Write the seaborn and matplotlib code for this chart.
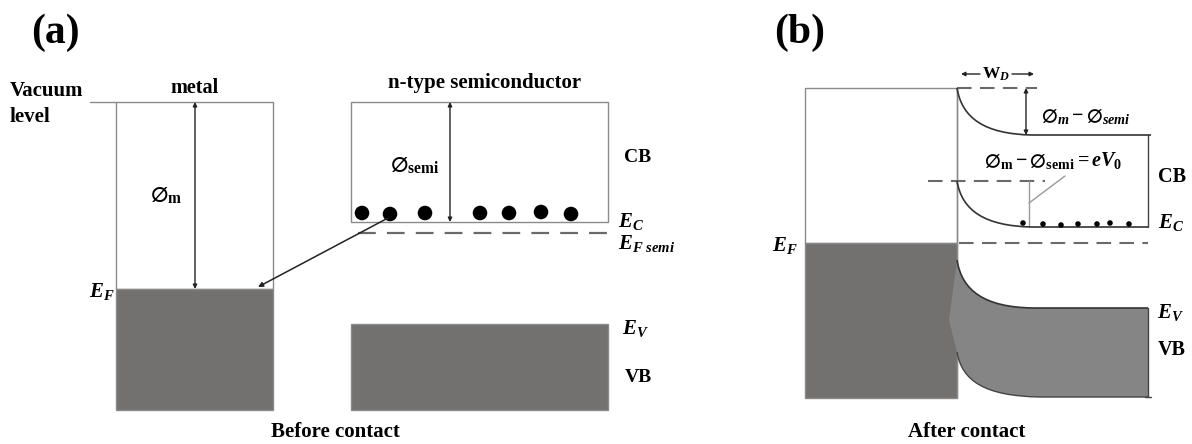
import numpy as np
import pandas as pd
import matplotlib
matplotlib.use("Agg")
import matplotlib.pyplot as plt
from matplotlib.path import Path
from matplotlib.patches import PathPatch, Rectangle, FancyArrowPatch
import seaborn as sns

# ---------------- band levels (canvas units, y grows downward) ----------------
# (a) before contact
metal_a_x = [116, 273]
vacuum_a_y = 102
ef_metal_a_y = 289
bottom_a_y = 410
semi_a_x = [351, 608]
ec_a_y = 222
ef_semi_a_y = 233
ev_a_y = 324
electrons_a_x = [362, 390, 425, 480, 509, 541, 571]
electrons_a_y = [213, 214, 213, 213, 213, 212, 214]

# (b) after contact
metal_b_x = [805, 957]
vacuum_b_y = 88
ef_b_y = 243
bottom_b_y = 398
semi_b_right = 1148
cb_top_flat_y = 135
ec_b_y = 227
ec_edge_y = 181
ev_edge_y = 260
ev_b_y = 308
vb_bottom_b_y = 397
vb_bottom_edge_y = 352
bend_end_x = 1032
electrons_b_x = [1023, 1043, 1061, 1078, 1097, 1110, 1129]
electrons_b_y = [223, 224, 225, 224, 224, 223, 224]

METAL_GREY = "#737070"
VB_GREY = "#858585"
EDGE_GREY = "#8a8a8a"
DASH_GREY = "#6a6a6a"

sns.set_theme(style="white")
plt.rcParams["font.family"] = ["Liberation Serif", "DejaVu Serif"]
plt.rcParams["font.weight"] = "bold"
plt.rcParams["text.color"] = "black"
plt.rcParams["mathtext.fontset"] = "custom"
plt.rcParams["mathtext.rm"] = "Liberation Serif:bold"
plt.rcParams["mathtext.bf"] = "Liberation Serif:bold"
plt.rcParams["mathtext.it"] = "Liberation Serif:italic:bold"
plt.rcParams["mathtext.fallback"] = "stix"

fig = plt.figure(figsize=(11.92, 4.44), dpi=100)
ax = fig.add_axes([0, 0, 1, 1])
ax.set_xlim(0, 1192)
ax.set_ylim(444, 0)
ax.axis("off")


def txt(x, y, s, size=15, ha="center", va="center", **kw):
    ax.text(x, y, s, fontsize=size, ha=ha, va=va, fontweight="bold",
            color="black", **kw)


def darrow(x, y0, y1, both=True, lw=1.0):
    style = "<|-|>" if both else "-|>"
    ax.add_patch(FancyArrowPatch((x, y0), (x, y1), arrowstyle=style,
                                 mutation_scale=6, lw=lw, color="#222222",
                                 shrinkA=0, shrinkB=0))


def bend(x0, y_edge, y_flat, x_end, x_right):
    """Band edge bending from the interface down to its flat bulk value."""
    verts = [(x0, y_edge), (x0 + 5, y_edge + 0.65 * (y_flat - y_edge)),
             (x0 + 28, y_flat - 1), (x_end, y_flat), (x_right, y_flat)]
    codes = [Path.MOVETO, Path.CURVE4, Path.CURVE4, Path.CURVE4, Path.LINETO]
    return Path(verts, codes)


# ===================== (a) before contact =====================
txt(55, 33, "(a)", size=30)
txt(10, 91, "Vacuum", ha="left")
txt(10, 117, "level", ha="left")
ax.plot([90, metal_a_x[0]], [vacuum_a_y, vacuum_a_y], color=EDGE_GREY, lw=1)

txt(np.mean(metal_a_x), 88, "metal", size=14.5)
ax.add_patch(Rectangle((metal_a_x[0], vacuum_a_y), metal_a_x[1] - metal_a_x[0],
                       ef_metal_a_y - vacuum_a_y, fill=False, ec=EDGE_GREY, lw=1))
ax.add_patch(Rectangle((metal_a_x[0], ef_metal_a_y), metal_a_x[1] - metal_a_x[0],
                       bottom_a_y - ef_metal_a_y, fc=METAL_GREY, ec=EDGE_GREY, lw=1))
darrow(195, vacuum_a_y, ef_metal_a_y)
txt(166, 195, r"$\varnothing_{\mathrm{m}}$", size=16)
txt(102, 291, r"$E_F$", size=15)

txt(485, 83, "n-type semiconductor")
ax.add_patch(Rectangle((semi_a_x[0], vacuum_a_y), semi_a_x[1] - semi_a_x[0],
                       ec_a_y - vacuum_a_y, fill=False, ec=EDGE_GREY, lw=1))
darrow(450, vacuum_a_y, ec_a_y)
txt(415, 165, r"$\varnothing_{\mathrm{semi}}$", size=16)
txt(638, 157, "CB", size=14)
sns.scatterplot(x=electrons_a_x, y=electrons_a_y, ax=ax, color="black",
                s=110, edgecolor="none", legend=False, zorder=4)
ax.plot([358, semi_a_x[1]], [ef_semi_a_y, ef_semi_a_y], color=DASH_GREY,
        lw=1.6, dashes=(8, 5))
txt(631, 221, r"$E_C$", size=15)
txt(647, 243, r"$E_{F\ semi}$", size=15)
ax.add_patch(FancyArrowPatch((electrons_a_x[1] - 2, electrons_a_y[1] + 4),
                             (258, ef_metal_a_y - 2), arrowstyle="-|>",
                             mutation_scale=7, lw=1.1, color="#222222",
                             shrinkA=0, shrinkB=0, zorder=5))

ax.add_patch(Rectangle((semi_a_x[0], ev_a_y), semi_a_x[1] - semi_a_x[0],
                       bottom_a_y - ev_a_y, fc=METAL_GREY, ec=EDGE_GREY, lw=1))
txt(635, 328, r"$E_V$", size=15)
txt(638, 377, "VB", size=14)
txt(335, 432, "Before contact")

# ===================== (b) after contact =====================
txt(800, 33, "(b)", size=30)
ax.add_patch(Rectangle((metal_b_x[0], vacuum_b_y), metal_b_x[1] - metal_b_x[0],
                       ef_b_y - vacuum_b_y, fill=False, ec=EDGE_GREY, lw=1))
ax.add_patch(Rectangle((metal_b_x[0], ef_b_y), metal_b_x[1] - metal_b_x[0],
                       bottom_b_y - ef_b_y, fc=METAL_GREY, ec=EDGE_GREY, lw=1))
ax.plot([metal_b_x[1], metal_b_x[1]], [vacuum_b_y, bottom_b_y], color=EDGE_GREY, lw=1)
txt(785, 245, r"$E_F$", size=15)

# valence band (filled, bent)
vb_top = bend(metal_b_x[1], ev_edge_y, ev_b_y, bend_end_x, semi_b_right)
vb_bot = bend(metal_b_x[1], vb_bottom_edge_y, vb_bottom_b_y, bend_end_x + 8, semi_b_right)
top_v = vb_top.vertices.tolist()
bot_v = vb_bot.vertices.tolist()[::-1]
verts = top_v + bot_v + [(949, 320), top_v[0]]
codes = ([Path.MOVETO, Path.CURVE4, Path.CURVE4, Path.CURVE4, Path.LINETO]
         + [Path.LINETO, Path.LINETO, Path.CURVE4, Path.CURVE4, Path.CURVE4]
         + [Path.LINETO, Path.LINETO])
ax.add_patch(PathPatch(Path(verts, codes), fc=VB_GREY, ec="none", zorder=2))
ax.add_patch(PathPatch(vb_top, fc="none", ec="#333333", lw=1.2, zorder=3))
ax.add_patch(PathPatch(vb_bot, fc="none", ec="#444444", lw=1.0, zorder=3))
ax.plot([semi_b_right, semi_b_right], [ev_b_y, vb_bottom_b_y], color="#444444", lw=1)
ax.plot([semi_b_right - 3, semi_b_right + 3], [vb_bottom_b_y, vb_bottom_b_y], color="#444444", lw=1)

# conduction band edges
ax.add_patch(PathPatch(bend(metal_b_x[1], vacuum_b_y, cb_top_flat_y, bend_end_x, semi_b_right + 3),
                       fc="none", ec="#333333", lw=1.2, zorder=3))
ax.add_patch(PathPatch(bend(metal_b_x[1], ec_edge_y, ec_b_y, bend_end_x, semi_b_right),
                       fc="none", ec="#333333", lw=1.2, zorder=3))
ax.plot([semi_b_right, semi_b_right], [cb_top_flat_y, ec_b_y], color="#444444", lw=1)

# reference dashed levels
ax.plot([metal_b_x[1], 1037], [vacuum_b_y, vacuum_b_y], color=DASH_GREY, lw=1.5, dashes=(7, 4))
ax.plot([928, 1045], [ec_edge_y, ec_edge_y], color=DASH_GREY, lw=1.5, dashes=(7, 4))
ax.plot([metal_b_x[1] + 2, semi_b_right], [ef_b_y, ef_b_y], color=DASH_GREY, lw=1.5, dashes=(7, 4))

# barrier annotations
darrow(1026, vacuum_b_y, cb_top_flat_y)
txt(1086, 116, r"$\varnothing_m - \varnothing_{semi}$", size=14.5)
ax.plot([1029, 1029], [ec_edge_y, ec_b_y], color="#9a9a9a", lw=1)
ax.plot([1029, 1065], [203, 176], color="#9a9a9a", lw=1)
txt(1053, 160, r"$\varnothing_{\mathrm{m}} - \varnothing_{\mathrm{semi}} = eV_0$", size=14.5)

# depletion width
txt(996, 74, r"$\mathrm{W}_D$", size=12.5)
ax.add_patch(FancyArrowPatch((980, 74), (961, 74), arrowstyle="-|>", mutation_scale=6,
                             lw=1, color="#222222", shrinkA=0, shrinkB=0))
ax.add_patch(FancyArrowPatch((1012, 74), (1034, 74), arrowstyle="-|>", mutation_scale=6,
                             lw=1, color="#222222", shrinkA=0, shrinkB=0))

sns.scatterplot(x=electrons_b_x, y=electrons_b_y, ax=ax, color="black",
                s=16, edgecolor="none", legend=False, zorder=4)

txt(1172, 177, "CB", size=14.5)
txt(1171, 222, r"$E_C$", size=15)
txt(1170, 312, r"$E_V$", size=15)
txt(1172, 350, "VB", size=14.5)
txt(967, 432, "After contact")

fig.savefig("out.png", dpi=100)
